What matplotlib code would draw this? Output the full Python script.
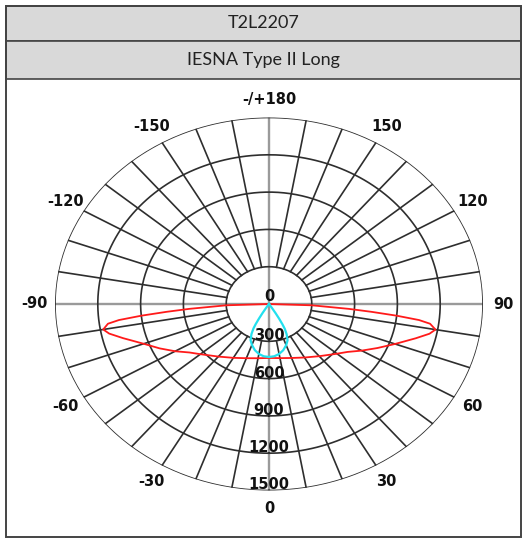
import numpy as np
import matplotlib
matplotlib.use("Agg")
import matplotlib.pyplot as plt
from matplotlib.patches import Rectangle

# candela values (angle in degrees, 0 = nadir)
red_angles = [-90, -88, -86, -85, -84, -83, -82, -80, -78, -75, -70, -65, -60, -55, -50, -40, -30, -20, -10,
              0, 10, 20, 30, 40, 50, 55, 60, 65, 70, 75, 78, 80, 82, 83, 84, 85, 86, 88, 90]
red_values = [0, 300, 560, 720, 900, 1060, 1140, 1180, 1145, 1060, 935, 845, 760, 680, 628, 552, 500, 464, 443,
              434, 442, 462, 497, 548, 622, 672, 750, 838, 940, 1065, 1150, 1185, 1140, 1060, 900, 720, 560, 300, 0]

cyan_angles = [-33.5, -33, -32, -31, -30, -29, -27, -24, -20, -15, -10, -5,
               0, 5, 10, 15, 20, 24, 27, 29, 30, 31, 32, 33, 33.5]
cyan_values = [0, 35, 85, 135, 185, 225, 270, 318, 350, 384, 408, 422,
               426, 422, 408, 385, 352, 320, 272, 228, 188, 138, 88, 38, 0]

ring_values = [300, 600, 900, 1200, 1500]
ring_labels = ["300", "600", "900", "1200", "1500"]
angle_ticks = [0, 30, 60, 90, 120, 150, 180, -150, -120, -90, -60, -30]
angle_labels = ["0", "30", "60", "90", "120", "150", "-/+180", "-150", "-120", "-90", "-60", "-30"]

W, H = 526, 539
fig = plt.figure(figsize=(W / 100, H / 100), dpi=100)


def px(x, y):
    # pixel (from top-left) -> figure fraction
    return x / W, 1 - y / H


# outer frame and title rows
edge = "#444444"
x0, x1 = 6, 521
for (ya, yb), txt in [((6, 41), "T2L2207"), ((41, 79), "IESNA Type II Long")]:
    fx, fy = px(x0, yb)
    fig.patches.append(Rectangle((fx, fy), (x1 - x0) / W, (yb - ya) / H, transform=fig.transFigure,
                                 facecolor="#d9d9d9", edgecolor=edge, lw=1.2))
    fig.text((x0 + x1) / 2 / W, 1 - (ya + yb) / 2 / H, txt, ha="center", va="center",
             fontsize=13, family="Lato", color="#222222")
fx, fy = px(x0, 537)
fig.patches.append(Rectangle((fx, fy), (x1 - x0) / W, (537 - 6) / H, transform=fig.transFigure,
                             facecolor="none", edgecolor=edge, lw=1.4))

# polar chart, stretched to an ellipse like the original
cx, cy, rx, ry = 269, 304, 214, 186.5
l, b = px(cx - rx, cy + ry)
ax = fig.add_axes([l, b, 2 * rx / W, 2 * ry / H], projection="polar")
ax.set_aspect("auto")
ax.set_theta_zero_location("S")
ax.set_theta_direction(1)
ax.set_rlim(0, 1500)
ax.set_xticks([])
ax.set_yticks([])
ax.grid(False)
ax.spines["polar"].set_visible(False)
ax.patch.set_alpha(0)

grid_col = "#2e2e2e"
th = np.linspace(0, 2 * np.pi, 400)
for r in ring_values:
    ax.plot(th, np.full_like(th, r), color=grid_col, lw=1.2)

for d in range(0, 360, 10):
    t = np.deg2rad(d)
    if d % 90 == 0:
        ax.plot([t, t], [0, 1500], color="#9a9a9a", lw=1.7, zorder=1)
    else:
        ax.plot([t, t], [300, 1500], color=grid_col, lw=1.2)

ax.plot(np.deg2rad(red_angles), red_values, color="#ff1a1a", lw=1.3, zorder=3)
ax.plot(np.deg2rad(cyan_angles), cyan_values, color="#22e0ee", lw=1.6, zorder=3)

lab = dict(ha="center", va="center", fontsize=10.5, fontweight="bold", color="#111111", zorder=5)
for d, s in zip(angle_ticks, angle_labels):
    ax.text(np.deg2rad(d), 1645, s, **lab)

ax.text(np.pi, 60, "0", **lab)
for r, s in zip(ring_values, ring_labels):
    ax.text(0, r - 45, s, **lab)

fig.savefig("out.png", dpi=100)
